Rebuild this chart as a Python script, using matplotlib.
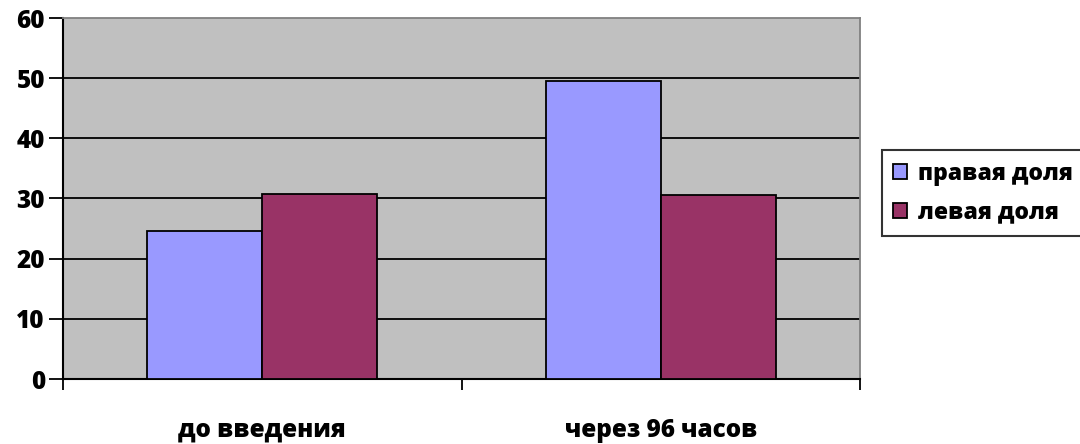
import numpy as np
import matplotlib.pyplot as plt

plt.rcParams['font.family'] = ['Open Sans', 'DejaVu Sans']
plt.rcParams['font.weight'] = 800

categories = ['до введения', 'через 96 часов']
series_names = ['правая доля', 'левая доля']
right_lobe = [24.6, 49.5]
left_lobe = [30.8, 30.5]
colors = ['#9999FF', '#993366']

fig = plt.figure(figsize=(10.8, 4.44), dpi=100)
ax = fig.add_axes([63 / 1080, 65 / 444, 797 / 1080, 361 / 444])
ax.set_facecolor('#C0C0C0')

x = np.arange(len(categories))
w = 0.288
ax.bar(x - w / 2, right_lobe, w, color=colors[0], edgecolor='black',
       linewidth=1.3, label=series_names[0], zorder=3)
ax.bar(x + w / 2, left_lobe, w, color=colors[1], edgecolor='black',
       linewidth=1.3, label=series_names[1], zorder=3)

ax.set_xlim(-0.5, 1.5)
ax.set_ylim(0, 60)
ax.set_yticks(range(0, 61, 10))
for yv in range(10, 60, 10):
    ax.axhline(yv, color='black', linewidth=1.3, zorder=1)

ax.set_xticks([-0.5, 0.5, 1.5])
ax.set_xticklabels([])
ax.set_xticks(x, minor=True)
ax.set_xticklabels(categories, minor=True, fontsize=17.5, fontweight=800)
ax.tick_params(axis='x', which='minor', length=0, pad=28)
ax.tick_params(axis='x', which='major', length=8, width=1.3, direction='out')
ax.tick_params(axis='y', length=10, width=1.3, direction='out', labelsize=17.5, pad=3)
for lbl in ax.get_yticklabels():
    lbl.set_fontweight(800)

for side in ['top', 'right']:
    ax.spines[side].set_color('#808080')
    ax.spines[side].set_linewidth(1.3)
for side in ['left', 'bottom']:
    ax.spines[side].set_color('black')
    ax.spines[side].set_linewidth(1.5)

leg = ax.legend(loc='upper left', bbox_to_anchor=(1.027, 0.634), fontsize=16.5,
                frameon=True, fancybox=False, edgecolor='black',
                handlelength=0.6, handleheight=0.6, handletextpad=0.5,
                borderpad=0.5, labelspacing=0.65, borderaxespad=0)
leg.get_frame().set_linewidth(1.5)
for t in leg.get_texts():
    t.set_fontweight(800)

fig.savefig('out.png', dpi=100)
